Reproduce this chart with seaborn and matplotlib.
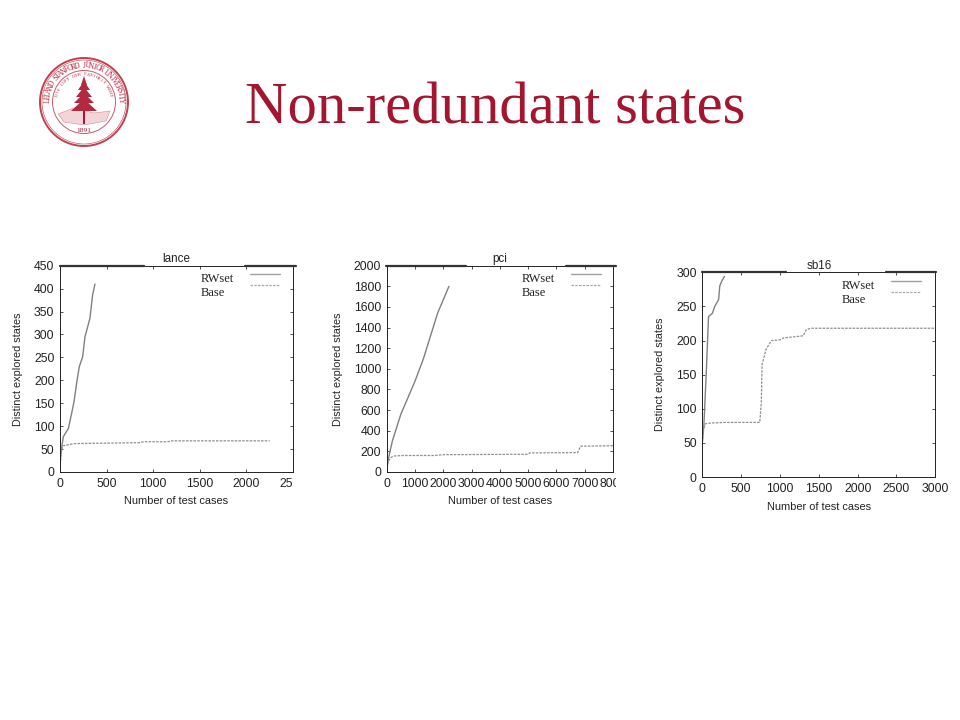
import numpy as np
import pandas as pd
import seaborn as sns
import matplotlib.pyplot as plt
from matplotlib.patches import Circle, Polygon, Rectangle
from matplotlib.transforms import Bbox

sns.set_theme(style="ticks")
plt.rcParams['font.family'] = ['Liberation Sans', 'DejaVu Sans']

W, H = 960, 720
RED = '#a4152f'
GREY = '#8f8f8f'

# values
lance_rw_x = [0, 5, 15, 36, 90, 125, 150, 178, 207, 243, 268, 321, 350, 375]
lance_rw_y = [0, 30, 50, 77, 95, 128, 153, 193, 230, 251, 295, 335, 386, 410]
lance_base_x = [0, 10, 30, 100, 150, 500, 850, 900, 1150, 1200, 2250]
lance_base_y = [0, 40, 57, 60, 62, 63, 64, 66, 66, 68, 68]

pci_rw_x = [0, 30, 100, 200, 500, 1000, 1300, 1800, 2200]
pci_rw_y = [0, 80, 180, 300, 560, 880, 1100, 1540, 1800]
pci_base_x = [0, 50, 150, 250, 600, 1700, 2000, 3500, 5000, 5050, 6750, 6850, 8000]
pci_base_y = [0, 100, 140, 155, 160, 160, 168, 170, 172, 185, 188, 250, 255]

sb16_rw_x = [0, 20, 50, 80, 130, 160, 210, 225, 250, 285]
sb16_rw_y = [50, 75, 150, 235, 240, 250, 260, 280, 287, 294]
sb16_base_x = [0, 15, 40, 100, 300, 740, 760, 770, 820, 890, 1000, 1050, 1150, 1300, 1340, 1400, 3000]
sb16_base_y = [50, 70, 78, 79, 80, 80, 110, 165, 187, 200, 201, 204, 205, 207, 216, 218, 218]

lance_xticks = [0, 500, 1000, 1500, 2000, 2500]
lance_yticks = [0, 50, 100, 150, 200, 250, 300, 350, 400, 450]
pci_xticks = [0, 1000, 2000, 3000, 4000, 5000, 6000, 7000, 8000]
pci_yticks = [0, 200, 400, 600, 800, 1000, 1200, 1400, 1600, 1800, 2000]
sb16_xticks = [0, 500, 1000, 1500, 2000, 2500, 3000]
sb16_yticks = [0, 50, 100, 150, 200, 250, 300]


def pixel_axes(fig, left, top, right, bottom):
    return fig.add_axes([left / W, 1 - bottom / H, (right - left) / W, (bottom - top) / H])


def panel(fig, box, name, rw, base, xticks, yticks, thick, legend_x, legend_y, clip_x=None):
    left, top, right, bottom = box
    ax = pixel_axes(fig, left, top, right, bottom)
    df = pd.concat([
        pd.DataFrame({'x': rw[0], 'y': rw[1], 'set': 'RWset'}),
        pd.DataFrame({'x': base[0], 'y': base[1], 'set': 'Base'}),
    ])
    sns.lineplot(data=df[df['set'] == 'RWset'], x='x', y='y', estimator=None, sort=False,
                 color='#808080', lw=1.0, ax=ax)
    sns.lineplot(data=df[df['set'] == 'Base'], x='x', y='y', estimator=None, sort=False,
                 color=GREY, lw=0.9, ls=(0, (2, 1)), ax=ax)
    ax.set_xlim(xticks[0], xticks[-1])
    ax.set_ylim(yticks[0], yticks[-1])
    ax.set_xticks(xticks)
    ax.set_yticks(yticks)
    ax.tick_params(direction='in', top=True, right=True, length=2.5, width=0.6,
                   labelsize=8.8, labelcolor='#222222', color='#333333')
    ax.tick_params(axis='x', pad=4.5)
    ax.tick_params(axis='y', pad=4)
    for s in ax.spines.values():
        s.set_linewidth(0.7)
        s.set_color('#222222')
    ax.set_xlabel('Number of test cases', fontsize=7.9, color='#222222', labelpad=4.5)
    ax.set_ylabel('Distinct explored states', fontsize=7.8, color='#222222', labelpad=8)
    ax.set_title(name, fontsize=8.4, color='#222222', pad=2.5)

    # top border is heavier on the two outer stretches
    for a, b in thick:
        fig.add_artist(plt.Line2D([a / W, b / W], [1 - top / H] * 2, color='#333333', lw=1.6))

    # labels that run past the picture edge are cut off
    if clip_x is not None:
        for lab in ax.get_xticklabels():
            lab.set_clip_on(True)
            lab.set_clip_box(Bbox([[0, 0], [clip_x, H]]))

    # legend text and samples
    fig.text(legend_x / W, 1 - (legend_y + 1) / H, 'RWset', family='Liberation Serif', fontsize=9,
             color='#222222', va='center')
    fig.text(legend_x / W, 1 - (legend_y + 15) / H, 'Base', family='Liberation Serif', fontsize=9,
             color='#222222', va='center')
    lx = legend_x + 49
    fig.add_artist(plt.Line2D([lx / W, (lx + 30) / W], [1 - (legend_y - 4) / H] * 2, color='#a0a0a0', lw=1.0))
    fig.add_artist(plt.Line2D([lx / W, (lx + 30) / W], [1 - (legend_y + 7) / H] * 2, color='#a8a8a8', lw=0.9,
                              ls=(0, (2, 1))))
    return ax


def seal(fig):
    # whole-figure overlay in pixel coordinates
    ov = fig.add_axes([0, 0, 1, 1], zorder=5)
    ov.set_xlim(0, W)
    ov.set_ylim(H, 0)
    ov.axis('off')
    cx, cy = 84, 102
    ov.add_patch(Circle((cx, cy), 44, fc='none', ec='#c0404f', lw=1.4))
    ov.add_patch(Circle((cx, cy), 42, fc='none', ec='#c85a68', lw=0.5))
    ov.add_patch(Circle((cx, cy), 31.5, fc='none', ec='#c85a68', lw=0.7))
    ring = 'LELAND STANFORD JUNIOR UNIVERSITY'
    for ch, a in zip(ring, np.linspace(-178, -2, len(ring))):
        r = np.radians(a)
        ov.text(cx + 36.5 * np.cos(r), cy + 36.5 * np.sin(r), ch, rotation=-a - 90, fontsize=5.6,
                family='Liberation Serif', color='#b8283f', ha='center', va='center', rotation_mode='anchor')
    motto = 'DIE LUFT DER FREIHEIT WEHT'
    for ch, a in zip(motto, np.linspace(-165, -15, len(motto))):
        r = np.radians(a)
        ov.text(cx + 27.5 * np.cos(r), cy + 27.5 * np.sin(r), ch, rotation=-a - 90, fontsize=3.4,
                family='Liberation Serif', color='#b8283f', ha='center', va='center', rotation_mode='anchor')
    ov.add_patch(Polygon([(cx - 26, cy + 12), (cx - 10, cy + 6), (cx + 10, cy + 11), (cx + 26, cy + 9),
                          (cx + 22, cy + 19), (cx, cy + 23), (cx - 20, cy + 20)],
                         fc='#f3d5d9', ec='#d58a94', lw=0.4))
    # tree
    ov.add_patch(Rectangle((cx - 1, cy - 20), 2, 42, fc='#a4173a', ec='none'))
    for w, y0, y1 in [(3, -26, -17), (6, -21, -12), (8, -15, -5), (10, -9, 1), (13, -3, 9)]:
        ov.add_patch(Polygon([(cx, cy + y0), (cx - w, cy + y1), (cx + w, cy + y1)], fc='#b22a3f', ec='none'))
    ov.text(cx, cy + 29, '1891', fontsize=5.4, family='Liberation Serif', color='#a4173a', ha='center', va='center')


fig = plt.figure(figsize=(W / 100, H / 100), dpi=100, facecolor='white')

fig.text(495 / W, 1 - 123 / H, 'Non-redundant states', family='Liberation Serif', fontsize=42.2,
         color=RED, ha='center', va='baseline')

panel(fig, (60, 265.7, 293, 472), 'lance', (lance_rw_x, lance_rw_y), (lance_base_x, lance_base_y),
      lance_xticks, lance_yticks, [(60, 144), (245, 296)], 201, 278, clip_x=292)
panel(fig, (386.7, 265.7, 613, 472), 'pci', (pci_rw_x, pci_rw_y), (pci_base_x, pci_base_y),
      pci_xticks, pci_yticks, [(386, 466), (566, 616)], 522, 278, clip_x=616)
panel(fig, (702.3, 272.3, 935.3, 477), 'sb16', (sb16_rw_x, sb16_rw_y), (sb16_base_x, sb16_base_y),
      sb16_xticks, sb16_yticks, [(702, 786), (886, 936)], 842, 285)

seal(fig)

fig.savefig('out.png', dpi=100)
